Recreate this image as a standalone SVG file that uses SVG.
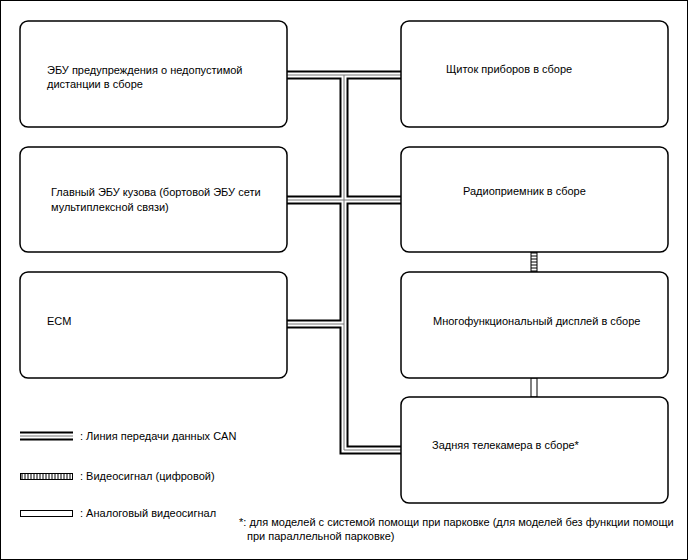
<svg xmlns="http://www.w3.org/2000/svg" width="688" height="560" viewBox="0 0 688 560">
<defs>
<style>
.box{fill:#fff;stroke:#000;stroke-width:1.5}
.t{font-family:"Liberation Sans",Arial,sans-serif;font-size:11px;fill:#000}
.cb{fill:none;stroke:#000;stroke-width:9}
.cw{fill:none;stroke:#fff;stroke-width:5}
.cg{fill:none;stroke:#777;stroke-width:1}
</style>
<pattern id="hatchH" width="6" height="3" patternUnits="userSpaceOnUse"><rect width="6" height="3" fill="#fff"/><line x1="0" y1="1" x2="6" y2="1" stroke="#000" stroke-width="1"/></pattern>
<pattern id="hatchV" width="3" height="6" patternUnits="userSpaceOnUse"><rect width="3" height="6" fill="#fff"/><line x1="1" y1="0" x2="1" y2="6" stroke="#000" stroke-width="1"/></pattern>
</defs>
<rect x="0.5" y="0.5" width="687" height="559" fill="#fff" stroke="#000" stroke-width="1"/>
<g id="connectors">
<g class="cb">
<path d="M287 75H401"/><path d="M287 200H401"/><path d="M287 324H344"/><path d="M344 75V450H401"/>
</g>
<g class="cw">
<path d="M287 75H401"/><path d="M287 200H401"/><path d="M287 324H344"/><path d="M344 75V450H401"/>
</g>
<g class="cg">
<path d="M287 75H401"/><path d="M287 200H401"/><path d="M287 324H344"/><path d="M344 75V450H401"/>
</g>
<rect x="531" y="252" width="6" height="20" fill="url(#hatchH)" stroke="#000" stroke-width="1"/>
<rect x="531" y="378" width="6" height="19" fill="#fff" stroke="#000" stroke-width="1"/>
</g>
<g id="ebu-distance"><rect class="box" x="20" y="21" width="267" height="106" rx="8"/><text class="t" x="47" y="74">ЭБУ предупреждения о недопустимой</text><text class="t" x="47" y="88">дистанции в сборе</text></g>
<g id="body-ecu"><rect class="box" x="20" y="147" width="267" height="105" rx="8"/><text class="t" x="51" y="196">Главный ЭБУ кузова (бортовой ЭБУ сети</text><text class="t" x="51" y="211">мультиплексной связи)</text></g>
<g id="ecm"><rect class="box" x="20" y="272" width="267" height="106" rx="8"/><text class="t" x="47" y="325">ECM</text></g>
<g id="meter"><rect class="box" x="401" y="21" width="267" height="106" rx="8"/><text class="t" x="446" y="73">Щиток приборов в сборе</text></g>
<g id="radio"><rect class="box" x="401" y="147" width="267" height="105" rx="8"/><text class="t" x="463" y="195">Радиоприемник в сборе</text></g>
<g id="display"><rect class="box" x="401" y="272" width="267" height="106" rx="8"/><text class="t" x="433" y="325">Многофункциональный дисплей в сборе</text></g>
<g id="camera"><rect class="box" x="401" y="397" width="267" height="106" rx="8"/><text class="t" x="432" y="449">Задняя телекамера в сборе*</text></g>
<g id="legend">
<path class="cb" d="M20 436H73"/><path class="cw" d="M20 436H73"/><path class="cg" d="M20 436H73"/>
<text class="t" x="80" y="440">: Линия передачи данных CAN</text>
<rect x="20.5" y="473.5" width="52" height="6" fill="url(#hatchV)" stroke="#000" stroke-width="1"/>
<text class="t" x="80" y="480">: Видеосигнал (цифровой)</text>
<rect x="20.5" y="510.5" width="52" height="6" fill="#fff" stroke="#000" stroke-width="1"/>
<text class="t" x="80" y="517">: Аналоговый видеосигнал</text>
<text class="t" x="239" y="526">*: для моделей с системой помощи при парковке (для моделей без функции помощи</text>
<text class="t" x="247" y="540">при параллельной парковке)</text>
</g>
</svg>
